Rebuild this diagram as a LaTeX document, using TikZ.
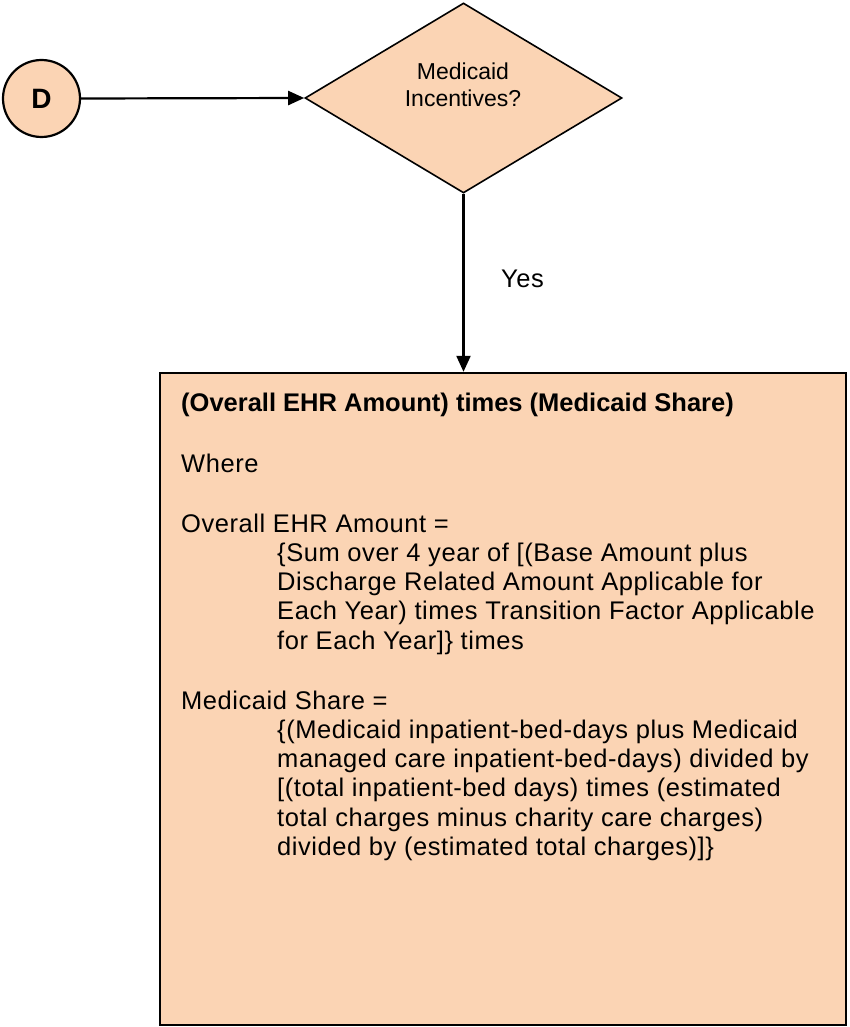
\documentclass[tikz,border=0pt]{standalone}
\usepackage{fontspec}
\setmainfont{Liberation Sans}
\newfontfamily\bodyfam[LetterSpace=2.2]{Liberation Sans}
\usetikzlibrary{shapes.geometric,arrows.meta}
\definecolor{peach}{HTML}{FBD4B4}
\begin{document}
\begin{tikzpicture}[x=1pt,y=-1pt,
  shapeline/.style={draw=black,fill=peach},
  arr/.style={line width=2.2pt,-{Triangle[length=16pt,width=14pt]}},
  bodyfont/.style={font=\fontsize{25.5}{29.2}\selectfont\bodyfam}]
\useasboundingbox (0,0) rectangle (849,1027);
\node[shapeline,circle,line width=2.2pt,minimum size=77pt,inner sep=0pt,
      font=\fontsize{28}{32}\selectfont\bfseries] (d) at (41.5,98.5) {D};
\node[shapeline,diamond,line width=1.6pt,minimum width=317pt,minimum height=190pt,
      inner sep=0pt] (q) at (463.5,98) {};
\node[align=center,inner sep=0pt,anchor=north,font=\fontsize{23}{27}\selectfont]
      (qt) at (463,62.4) {Medicaid\\Incentives?};
\node[shapeline,rectangle,line width=2.4pt,minimum width=686pt,minimum height=652pt,
      inner sep=0pt] (box) at (503,699) {};
\draw[arr] (d.east) -- (q.west);
\draw[arr] (q.south) -- (q.south |- box.north);
\node[bodyfont,anchor=base west,inner sep=0pt] (yes) at (501,287) {Yes};
\node[bodyfont,align=left,anchor=north west,inner sep=0pt] (bt) at (181,393.3) {%
{\rmfamily\bfseries (Overall EHR Amount) times (Medicaid Share)}\\[31pt]
Where\\[31pt]
Overall EHR Amount =\\
\hspace*{96pt}\{Sum over 4 year of [(Base Amount plus\\
\hspace*{96pt}Discharge Related Amount Applicable for\\
\hspace*{96pt}Each Year) times Transition Factor Applicable\\
\hspace*{96pt}for Each Year]\} times\\[31pt]
Medicaid Share =\\
\hspace*{96pt}\{(Medicaid inpatient-bed-days plus Medicaid\\
\hspace*{96pt}managed care inpatient-bed-days) divided by\\
\hspace*{96pt}[(total inpatient-bed days) times (estimated\\
\hspace*{96pt}total charges minus charity care charges)\\
\hspace*{96pt}divided by (estimated total charges)]\}};
\end{tikzpicture}
\end{document}
